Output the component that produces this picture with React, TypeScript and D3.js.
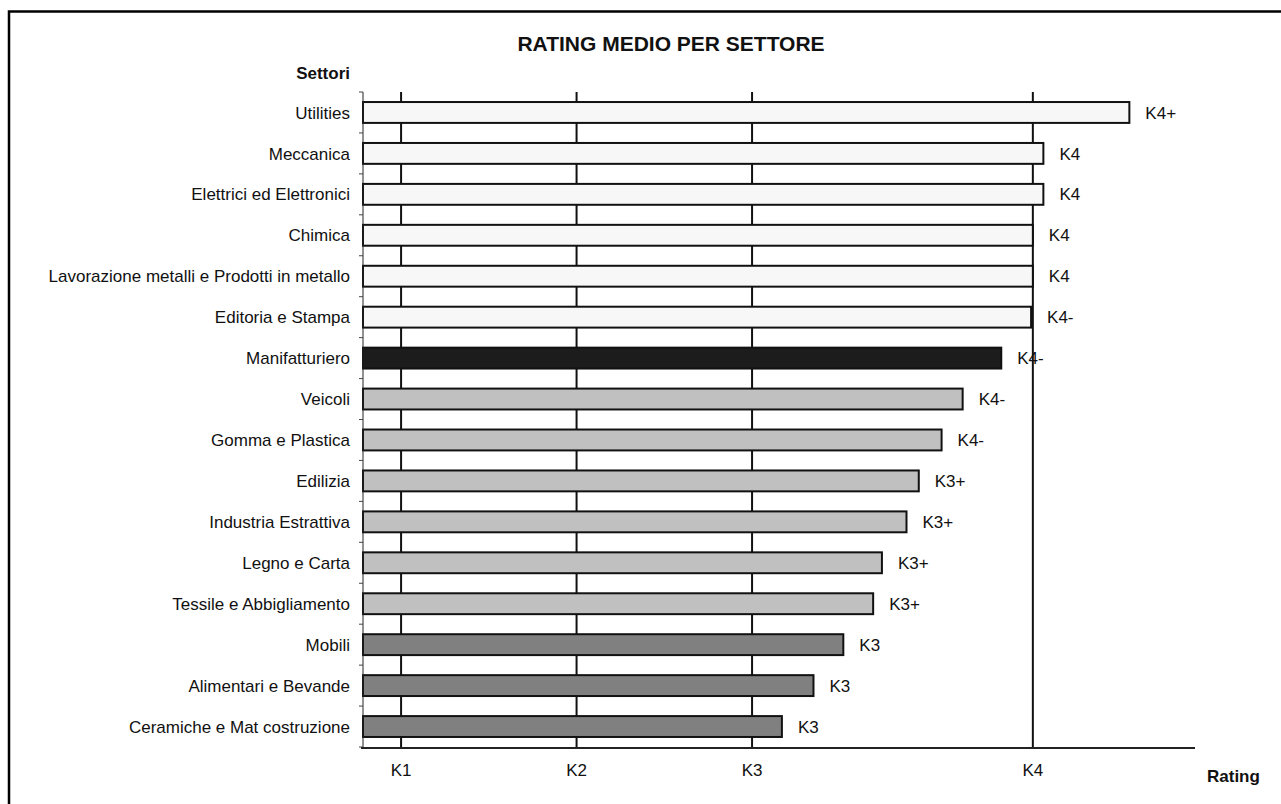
import React from "react";
import * as d3 from "d3";

const sectors = [
  "Utilities",
  "Meccanica",
  "Elettrici ed Elettronici",
  "Chimica",
  "Lavorazione metalli e Prodotti in metallo",
  "Editoria e Stampa",
  "Manifatturiero",
  "Veicoli",
  "Gomma e Plastica",
  "Edilizia",
  "Industria Estrattiva",
  "Legno e Carta",
  "Tessile e Abbigliamento",
  "Mobili",
  "Alimentari e Bevande",
  "Ceramiche e Mat costruzione",
];

const ratingValues = [5.15, 4.66, 4.66, 4.6, 4.6, 4.59, 4.42, 4.2, 4.08, 3.95, 3.88, 3.74, 3.69, 3.52, 3.35, 3.17];

const ratingLabels = ["K4+", "K4", "K4", "K4", "K4", "K4-", "K4-", "K4-", "K4-", "K3+", "K3+", "K3+", "K3+", "K3", "K3", "K3"];

const groups = ["high", "high", "high", "high", "high", "high", "total", "mid", "mid", "mid", "mid", "mid", "mid", "low", "low", "low"];

const tickValues = [1, 2, 3, 4.6];
const tickLabels = ["K1", "K2", "K3", "K4"];

const fills: Record<string, string> = {
  high: "#f7f7f7",
  total: "#1c1c1c",
  mid: "#c0c0c0",
  low: "#808080",
};

const FONT = "'Liberation Sans', Arial, sans-serif";

export default function App() {
  const x = d3.scaleLinear().domain([0.783, 5.524]).range([363, 1195]);
  const y = d3
    .scaleBand<string>()
    .domain(sectors)
    .range([92, 747])
    .paddingInner(0.49)
    .paddingOuter(0.245);
  const step = y.step();
  const top = 92;
  const axisY = 748;

  const boundaries = d3.range(sectors.length + 1).map((i) => top + i * step);

  return (
    <svg
      width={1281}
      height={804}
      style={{ position: "absolute", left: 0, top: 0, background: "#fff" }}
      fontFamily={FONT}
    >
      <rect x={0} y={0} width={1281} height={804} fill="#fff" />
      {/* frame */}
      <rect x={9} y={11.5} width={1300} height={820} fill="none" stroke="#000" strokeWidth={2.5} />

      <text x={671} y={51} textAnchor="middle" fontSize={21} fontWeight="bold" fill="#111">
        RATING MEDIO PER SETTORE
      </text>
      <text x={350} y={79} textAnchor="end" fontSize={17} fontWeight="bold" fill="#111">
        Settori
      </text>

      {/* gridlines */}
      {tickValues.map((t, i) => (
        <line key={"g" + i} x1={x(t)} x2={x(t)} y1={top} y2={axisY} stroke="#111" strokeWidth={2} />
      ))}

      {/* bars */}
      {sectors.map((s, i) => (
        <rect
          key={s}
          x={x.range()[0]}
          y={y(s)}
          width={x(ratingValues[i]) - x.range()[0]}
          height={y.bandwidth()}
          fill={fills[groups[i]]}
          stroke="#111"
          strokeWidth={2}
        />
      ))}

      {/* value labels */}
      {sectors.map((s, i) => (
        <text
          key={"v" + s}
          x={x(ratingValues[i]) + 16}
          y={(y(s) as number) + y.bandwidth() / 2}
          dy="0.36em"
          fontSize={17}
          fill="#111"
        >
          {ratingLabels[i]}
        </text>
      ))}

      {/* left axis */}
      <line x1={363} x2={363} y1={top} y2={axisY} stroke="#222" strokeWidth={1} />
      {boundaries.map((b, i) => (
        <line key={"t" + i} x1={359} x2={363} y1={b} y2={b} stroke="#444" strokeWidth={1} />
      ))}
      {sectors.map((s) => (
        <text
          key={"l" + s}
          x={350}
          y={(y(s) as number) + y.bandwidth() / 2}
          dy="0.36em"
          textAnchor="end"
          fontSize={17}
          fill="#111"
        >
          {s}
        </text>
      ))}

      {/* bottom axis */}
      <line x1={361} x2={1195} y1={axisY} y2={axisY} stroke="#222" strokeWidth={2} />
      {tickValues.map((t, i) => (
        <text key={"k" + i} x={x(t)} y={776} textAnchor="middle" fontSize={17} fill="#111">
          {tickLabels[i]}
        </text>
      ))}
      <text x={1207} y={782} fontSize={17} fontWeight="bold" fill="#111">
        Rating
      </text>
    </svg>
  );
}
